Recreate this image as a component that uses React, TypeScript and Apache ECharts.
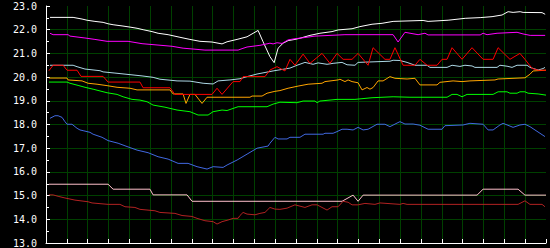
import React, { useEffect, useRef } from "react";
import * as echarts from "echarts";

// y-axis tick labels
const yTicks = [13, 14, 15, 16, 17, 18, 19, 20, 21, 22, 23];

// Each series: [hour, value]
const whiteData: [number, number][] = [
  [0.19, 22.52], [1.3, 22.52], [1.73, 22.45], [1.97, 22.4], [2.35, 22.35], [2.74, 22.31], [2.98, 22.25],
  [3.22, 22.21], [3.65, 22.16], [4.03, 22.11], [4.37, 22.06], [4.66, 22.0], [5.09, 21.92], [5.38, 21.85],
  [5.86, 21.79], [6.43, 21.68], [6.91, 21.59], [7.39, 21.51], [7.97, 21.48], [8.45, 21.4], [8.69, 21.49],
  [9.17, 21.59], [9.65, 21.7], [10.18, 21.97], [10.42, 21.49], [10.75, 20.86], [10.95, 20.61], [11.14, 21.22],
  [11.38, 21.43], [11.62, 21.54], [11.95, 21.59], [12.19, 21.64], [12.67, 21.76], [13.15, 21.85], [13.73, 21.92],
  [14.02, 21.99], [14.69, 22.04], [15.07, 22.13], [15.65, 22.23], [16.13, 22.27], [16.66, 22.35], [18.1, 22.39],
  [18.34, 22.35], [19.3, 22.4], [20.12, 22.48], [20.84, 22.51], [21.41, 22.55], [21.89, 22.62], [22.18, 22.76],
  [22.42, 22.73], [22.76, 22.76], [22.9, 22.73], [23.81, 22.72], [23.96, 22.65],
];

const magentaData: [number, number][] = [
  [0.19, 21.85], [0.34, 21.79], [1.06, 21.79], [1.15, 21.73], [1.87, 21.65], [2.35, 21.59], [2.93, 21.51],
  [3.94, 21.51], [4.61, 21.41], [6.05, 21.3], [6.58, 21.22], [7.63, 21.14], [9.22, 21.14], [9.41, 21.2],
  [9.65, 21.27], [10.27, 21.34], [10.75, 21.43], [10.9, 21.4], [11.09, 21.45], [11.33, 21.42], [11.62, 21.57],
  [11.95, 21.62], [12.34, 21.66], [12.91, 21.73], [14.35, 21.79], [16.66, 21.79], [16.9, 21.48], [17.23, 21.89],
  [17.86, 21.79], [18.19, 21.85], [18.34, 21.78], [20.84, 21.78], [20.98, 21.85], [21.17, 21.79], [21.65, 21.85],
  [22.61, 21.89], [22.9, 21.82], [23.24, 21.76], [23.96, 21.76],
];

const lightBlueData: [number, number][] = [
  [0.19, 20.5], [1.3, 20.5], [1.49, 20.44], [1.87, 20.34], [2.59, 20.27], [2.74, 20.22], [3.31, 20.17],
  [4.61, 20.05], [5.14, 19.99], [5.47, 19.91], [6.29, 19.84], [6.91, 19.83], [7.54, 19.74], [8.02, 19.71],
  [8.26, 19.84], [8.83, 19.88], [9.31, 19.93], [9.65, 20.02], [10.13, 20.13], [10.9, 20.26], [11.38, 20.33],
  [11.71, 20.38], [12.05, 20.5], [12.43, 20.62], [12.82, 20.54], [13.06, 20.6], [13.49, 20.54], [13.78, 20.58],
  [14.21, 20.62], [14.45, 20.52], [14.83, 20.5], [14.98, 20.62], [16.51, 20.67], [16.66, 20.71], [16.99, 20.7],
  [17.33, 20.62], [17.71, 20.5], [18.29, 20.5], [18.43, 20.41], [19.25, 20.41], [19.49, 20.5], [19.87, 20.45],
  [20.11, 20.5], [20.45, 20.47], [20.59, 20.41], [21.65, 20.41], [21.79, 20.5], [22.13, 20.46], [22.37, 20.41],
  [22.61, 20.5], [23.09, 20.5], [23.23, 20.41], [23.62, 20.3], [23.86, 20.36], [23.95, 20.41],
];

const redData: [number, number][] = [
  [0.14, 20.27], [0.34, 20.5], [0.82, 20.5], [1.01, 20.29], [1.49, 20.29], [1.68, 20.03], [2.74, 20.03],
  [2.98, 19.79], [4.51, 19.79], [4.66, 19.55], [5.95, 19.55], [6.19, 19.27], [7.97, 19.27], [8.21, 19.53],
  [8.45, 19.27], [8.98, 19.81], [9.31, 19.81], [9.46, 20.02], [10.51, 20.02], [10.75, 20.3], [11.09, 20.44],
  [11.23, 20.37], [11.47, 20.26], [11.71, 20.75], [11.95, 20.5], [12.34, 20.97], [12.67, 20.58], [13.25, 21.0],
  [13.63, 20.58], [13.97, 21.0], [14.26, 20.75], [14.69, 20.75], [14.98, 21.0], [15.46, 20.5], [15.7, 21.24],
  [16.27, 20.75], [16.51, 20.75], [16.75, 21.24], [17.14, 20.5], [17.71, 20.5], [17.95, 20.75], [18.29, 20.5],
  [18.77, 20.5], [19.01, 20.75], [19.25, 20.75], [19.49, 21.24], [19.97, 20.75], [20.45, 21.24], [20.98, 20.75],
  [21.46, 20.75], [21.7, 21.24], [22.27, 20.75], [22.75, 21.0], [22.99, 20.75], [23.33, 20.37], [23.62, 20.29],
  [24.0, 20.29],
];

const orangeData: [number, number][] = [
  [0.14, 19.96], [1.01, 19.96], [1.06, 19.88], [1.73, 19.84], [2.02, 19.74], [2.45, 19.7], [2.93, 19.64],
  [3.41, 19.57], [4.03, 19.53], [4.37, 19.46], [5.95, 19.46], [6.1, 19.29], [6.58, 19.29], [6.72, 18.89],
  [6.91, 19.27], [7.15, 19.27], [7.49, 18.89], [7.73, 19.15], [9.79, 19.15], [9.89, 19.2], [10.37, 19.2],
  [10.61, 19.32], [10.99, 19.4], [11.23, 19.43], [11.62, 19.53], [12.1, 19.62], [12.58, 19.7], [13.25, 19.74],
  [13.39, 19.81], [14.02, 19.88], [14.11, 19.91], [14.35, 19.81], [14.5, 19.88], [14.69, 19.81], [14.98, 19.76],
  [15.17, 19.46], [15.41, 19.56], [15.55, 19.49], [15.7, 19.56], [15.94, 19.84], [16.18, 19.84], [16.51, 20.02],
  [16.75, 19.95], [17.33, 19.92], [17.71, 19.95], [17.95, 19.67], [18.77, 19.67], [18.91, 19.78], [19.54, 19.84],
  [19.97, 19.81], [20.35, 19.84], [21.55, 19.88], [21.7, 19.92], [22.99, 19.97], [23.23, 20.12], [23.38, 20.26],
  [24.0, 20.29],
];

const greenData: [number, number][] = [
  [0.14, 19.79], [1.01, 19.79], [1.15, 19.74], [1.54, 19.65], [1.87, 19.57], [2.26, 19.49], [2.93, 19.34],
  [3.41, 19.27], [3.7, 19.17], [4.13, 19.06], [4.51, 19.03], [4.85, 18.96], [5.14, 18.82], [5.71, 18.73],
  [6.29, 18.61], [6.91, 18.54], [7.3, 18.4], [7.78, 18.4], [8.02, 18.54], [8.45, 18.61], [8.69, 18.59],
  [9.22, 18.75], [10.61, 18.75], [10.9, 18.86], [11.23, 18.94], [12.05, 18.92], [12.34, 18.99], [12.91, 18.99],
  [13.01, 18.92], [13.15, 18.99], [13.97, 19.06], [14.83, 19.06], [15.65, 19.13], [16.66, 19.17], [17.47, 19.15],
  [19.25, 19.15], [19.49, 19.27], [19.73, 19.27], [19.97, 19.17], [20.21, 19.27], [21.46, 19.27], [21.7, 19.38],
  [22.13, 19.38], [22.27, 19.32], [22.61, 19.32], [22.75, 19.38], [22.99, 19.38], [23.14, 19.32], [23.62, 19.29],
  [24.0, 19.24],
];

const blueData: [number, number][] = [
  [0.19, 18.26], [0.43, 18.37], [0.58, 18.37], [0.77, 18.3], [0.91, 18.12], [1.01, 18.01], [1.25, 18.01],
  [1.49, 17.84], [1.63, 17.77], [1.78, 17.74], [2.11, 17.67], [2.26, 17.59], [2.69, 17.46], [2.98, 17.32],
  [3.46, 17.21], [3.89, 17.07], [4.37, 16.92], [4.9, 16.81], [5.38, 16.64], [5.86, 16.54], [6.34, 16.36],
  [6.82, 16.36], [7.25, 16.22], [7.73, 16.12], [8.02, 16.22], [8.5, 16.19], [8.69, 16.29], [9.17, 16.5],
  [9.65, 16.75], [10.13, 17.0], [10.66, 17.09], [10.75, 17.21], [10.99, 17.46], [11.14, 17.39], [11.57, 17.39],
  [11.71, 17.46], [12.19, 17.46], [12.43, 17.59], [13.3, 17.59], [13.39, 17.63], [13.78, 17.63], [13.97, 17.7],
  [14.21, 17.8], [14.45, 17.8], [14.74, 17.77], [14.98, 17.88], [15.22, 17.77], [15.46, 17.8], [15.89, 18.01],
  [16.27, 18.01], [16.51, 17.91], [16.85, 18.06], [16.99, 18.12], [17.23, 18.02], [17.62, 18.02], [17.95, 17.97],
  [18.34, 17.8], [19.01, 17.8], [19.15, 17.95], [20.02, 17.98], [20.35, 18.05], [20.98, 18.01], [21.22, 17.77],
  [21.46, 17.77], [21.79, 17.98], [21.94, 18.05], [22.42, 17.88], [22.75, 17.98], [22.99, 18.01], [23.23, 17.91],
  [23.95, 17.49],
];

const pinkData: [number, number][] = [
  [0.14, 15.48], [2.98, 15.48], [3.22, 15.27], [4.99, 15.27], [5.14, 15.03], [6.77, 15.03], [7.01, 14.76],
  [14.21, 14.76], [14.74, 15.02], [14.98, 14.76], [15.22, 15.02], [20.69, 15.02], [20.98, 15.27], [22.66, 15.27],
  [22.99, 15.02], [24.0, 15.02],
];

const darkRedData: [number, number][] = [
  [0.14, 15.03], [0.34, 15.03], [0.58, 14.97], [0.91, 14.9], [1.39, 14.81], [2.02, 14.74], [2.21, 14.69],
  [2.98, 14.63], [3.55, 14.63], [3.79, 14.53], [4.27, 14.5], [4.51, 14.42], [5.23, 14.36], [5.47, 14.29],
  [6.19, 14.25], [6.53, 14.16], [7.01, 14.12], [7.25, 14.04], [7.63, 13.94], [8.02, 13.9], [8.21, 13.8],
  [8.45, 13.9], [8.74, 13.97], [8.98, 14.04], [9.22, 14.04], [9.31, 14.16], [9.46, 14.29], [9.65, 14.22],
  [10.03, 14.19], [10.27, 14.25], [10.51, 14.29], [10.75, 14.5], [10.99, 14.43], [11.23, 14.42], [11.57, 14.47],
  [11.95, 14.61], [12.43, 14.5], [12.77, 14.61], [13.01, 14.61], [13.49, 14.39], [13.73, 14.53], [14.02, 14.53],
  [14.26, 14.76], [14.5, 14.72], [14.69, 14.61], [14.98, 14.61], [15.31, 14.67], [15.79, 14.63], [16.03, 14.69],
  [16.99, 14.63], [17.14, 14.67], [17.33, 14.63], [22.66, 14.63], [22.99, 14.78], [23.23, 14.63], [23.81, 14.63],
  [23.95, 14.53],
];

const seriesDefs = [
  { name: "s1", color: "#ffffff", data: whiteData },
  { name: "s2", color: "#ff00ff", data: magentaData },
  { name: "s3", color: "#add8e6", data: lightBlueData },
  { name: "s4", color: "#ffa500", data: orangeData },
  { name: "s5", color: "#00ff00", data: greenData },
  { name: "s6", color: "#ff0000", data: redData },
  { name: "s7", color: "#4169e1", data: blueData },
  { name: "s8", color: "#ffc0cb", data: pinkData },
  { name: "s9", color: "#b22222", data: darkRedData },
];

export default function App() {
  const ref = useRef<HTMLDivElement>(null);
  useEffect(() => {
    if (!ref.current) return;
    const chart = echarts.init(ref.current, null, { renderer: "svg" });
    const gridColor = "#004000";
    chart.setOption({
      animation: false,
      backgroundColor: "#000000",
      grid: { left: 46, right: 4, top: 6, bottom: 5, containLabel: false },
      xAxis: {
        type: "value",
        min: 0,
        max: 24,
        interval: 1,
        axisLine: { show: true, lineStyle: { color: "#ffffff", width: 1 } },
        axisTick: { show: true, inside: true, length: 4, lineStyle: { color: "#ffffff" } },
        axisLabel: { show: false },
        splitLine: { show: true, showMaxLine: false, lineStyle: { color: gridColor, width: 1 } },
      },
      yAxis: {
        type: "value",
        min: yTicks[0],
        max: yTicks[yTicks.length - 1],
        interval: 1,
        axisLine: { show: true, lineStyle: { color: "#ffffff", width: 1 } },
        axisTick: { show: true, inside: true, length: 4, lineStyle: { color: "#ffffff" } },
        minorTick: { show: true, splitNumber: 2, length: 3, lineStyle: { color: "#ffffff" } },
        axisLabel: {
          color: "#ffffff",
          fontFamily: "DejaVu Sans Mono",
          fontSize: 10,
          margin: 9,
          formatter: (v: number) => v.toFixed(1),
        },
        splitLine: { show: true, showMaxLine: false, lineStyle: { color: gridColor, width: 1 } },
      },
      series: seriesDefs.map((s) => ({
        name: s.name,
        type: "line",
        data: s.data,
        showSymbol: false,
        symbol: "none",
        lineStyle: { color: s.color, width: 1 },
        itemStyle: { color: s.color },
        emphasis: { disabled: true },
      })),
    });
    return () => chart.dispose();
  }, []);
  return (
    <div
      ref={ref}
      style={{ position: "fixed", left: 0, top: 0, width: 550, height: 248, background: "#000" }}
    />
  );
}
